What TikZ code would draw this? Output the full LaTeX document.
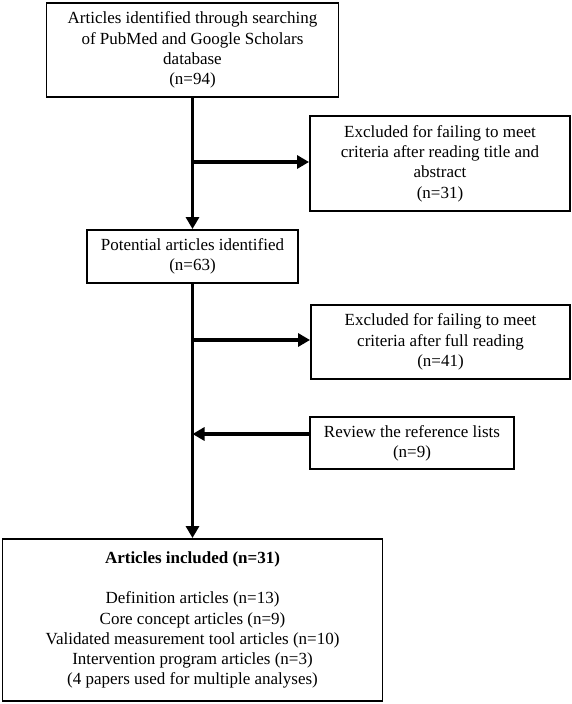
\documentclass[tikz,border=0pt]{standalone}
\usepackage{fontspec}
\setmainfont{Liberation Serif}
\usetikzlibrary{arrows.meta}
\begin{document}
\begin{tikzpicture}[x=1pt,y=-1pt,
  box/.style={draw=black,line width=1.9pt,inner sep=0pt,align=center,
    font=\fontsize{17}{20.3}\selectfont},
  flow/.style={line width=3.8pt,-{Triangle[length=12pt,width=13pt]}}]
\useasboundingbox (0,0) rectangle (572,704);
\node[box,minimum width=292pt,minimum height=94pt] (b1) at (192.5,50)
  {Articles identified through searching\\of PubMed and Google Scholars\\database\\(n=94)};
\node[box,minimum width=260pt,minimum height=95pt] (e1) at (440,163.5)
  {Excluded for failing to meet\\criteria after reading title and\\abstract\\(n=31)};
\node[box,minimum width=211pt,minimum height=53pt] (b2) at (192.5,256.5)
  {Potential articles identified\\(n=63)};
\node[box,minimum width=259pt,minimum height=74pt] (e2) at (440.5,342)
  {Excluded for failing to meet\\criteria after full reading\\(n=41)};
\node[box,minimum width=204pt,minimum height=52pt] (rv) at (412,443)
  {Review the reference lists\\(n=9)};
\node[box,minimum width=380pt,minimum height=162pt] (fin) at (192.5,620)
  {\textbf{Articles included (n=31)}\\[20.3pt]Definition articles (n=13)\\Core concept articles (n=9)\\Validated measurement tool articles (n=10)\\Intervention program articles (n=3)\\(4 papers used for multiple analyses)};
\coordinate (j1) at (192.5,162);
\coordinate (j2) at (192.5,340);
\coordinate (j3) at (192.5,434);
\draw[flow] (b1.south) -- (b2.north);
\draw[flow] (b2.south) -- (fin.north);
\draw[flow] (j1) -- (j1 -| e1.west);
\draw[flow] (j2) -- (j2 -| e2.west);
\draw[flow] (rv.west |- j3) -- (j3);
\end{tikzpicture}
\end{document}
